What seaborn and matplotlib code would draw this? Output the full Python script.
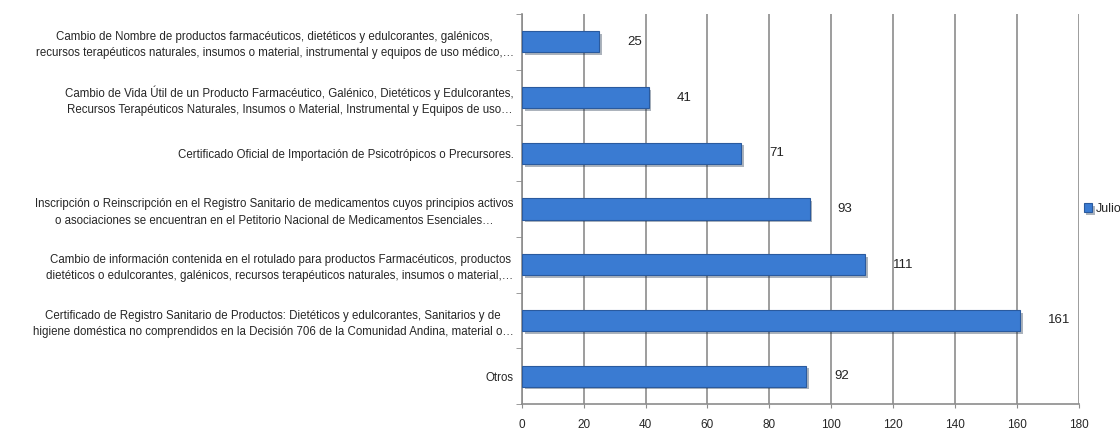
import pandas as pd
import matplotlib.pyplot as plt
import matplotlib.patheffects as pe
import seaborn as sns

tramites = [
    "Cambio de Nombre de productos farmacéuticos, dietéticos y edulcorantes, galénicos,\n"
    "recursos terapéuticos naturales, insumos o material, instrumental y equipos de uso médico,…",
    "Cambio de Vida Útil de un Producto Farmacéutico, Galénico, Dietéticos y Edulcorantes,\n"
    "Recursos Terapéuticos Naturales, Insumos o Material, Instrumental y Equipos de uso…",
    "Certificado Oficial de Importación de Psicotrópicos o Precursores.",
    "Inscripción o Reinscripción en el Registro Sanitario de medicamentos cuyos principios activos\n"
    "o asociaciones se encuentran en el Petitorio Nacional de Medicamentos Esenciales…",
    "Cambio de información contenida en el rotulado para productos Farmacéuticos, productos\n"
    "dietéticos o edulcorantes, galénicos, recursos terapéuticos naturales, insumos o material,…",
    "Certificado de Registro Sanitario de Productos: Dietéticos y edulcorantes, Sanitarios y de\n"
    "higiene doméstica no comprendidos en la Decisión 706 de la Comunidad Andina, material o…",
    "Otros",
]
julio = [25, 41, 71, 93, 111, 161, 92]
x_ticks = [0, 20, 40, 60, 80, 100, 120, 140, 160, 180]

df = pd.DataFrame({"tramite": tramites, "valor": julio, "mes": "Julio"})

sns.set_style("white")
plt.rcParams["font.family"] = ["Liberation Sans Narrow", "Liberation Sans", "DejaVu Sans"]

fig = plt.figure(figsize=(11.2, 4.3), dpi=100)
ax = fig.add_axes([0.466, 0.0605, 0.497, 0.907])

sns.barplot(data=df, x="valor", y="tramite", hue="mes", palette=["#3a7bd2"], saturation=1,
            width=0.38, edgecolor="#2a5a9e", linewidth=0.8, ax=ax, zorder=3)
for bar in ax.patches:
    bar.set_path_effects([pe.SimplePatchShadow(offset=(2, -2), alpha=0.35), pe.Normal()])

ax.bar_label(ax.containers[0], padding=20, fontsize=9.5, color="#222222",
             family=["Liberation Sans", "DejaVu Sans"])

ax.set_xlim(0, 180)
ax.set_xticks(x_ticks)
ax.set_ylim(6.5, -0.5)
ax.set_xlabel("")
ax.set_ylabel("")
ax.tick_params(axis="x", labelsize=8.5, length=3, direction="out", color="#8c8c8c", pad=8, bottom=True)
ax.tick_params(axis="y", labelsize=8.3, length=0, pad=6)
ax.set_yticks([i + 0.5 for i in range(-1, 7)], minor=True)
ax.tick_params(axis="y", which="minor", length=4, direction="out", color="#8c8c8c", left=True)
for lbl in ax.get_yticklabels():
    lbl.set_multialignment("center")
    lbl.set_linespacing(1.45)

ax.grid(axis="x", color="#8c8c8c", linewidth=1.2, zorder=0)
sns.despine(ax=ax, top=True, right=True)
for s in ("left", "bottom"):
    ax.spines[s].set_color("#8c8c8c")
    ax.spines[s].set_linewidth(1.2)

ax.legend(loc="center left", bbox_to_anchor=(1.0, 0.5), frameon=False, fontsize=9,
          handlelength=0.7, handleheight=0.7, handletextpad=0.3, borderaxespad=0)

fig.savefig("out.png", dpi=100)
